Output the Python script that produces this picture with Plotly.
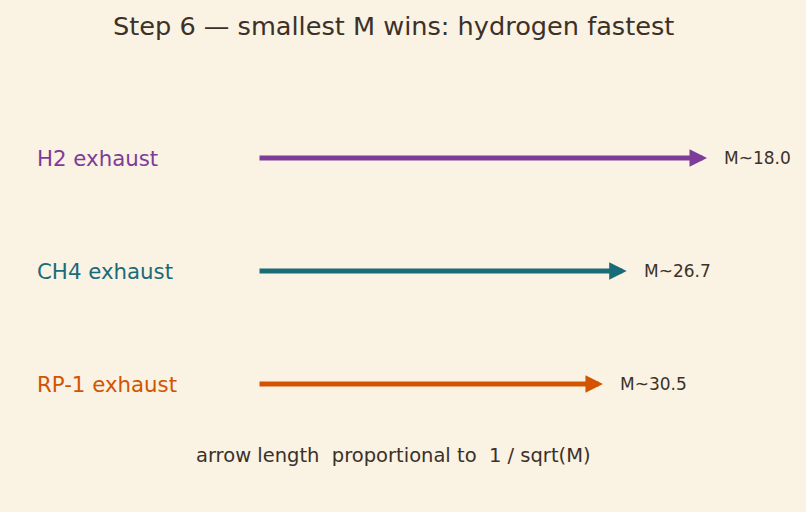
import math
import plotly.graph_objects as go

labels = ["H2 exhaust", "CH4 exhaust", "RP-1 exhaust"]
molar_mass = [18.0, 26.7, 30.5]
colors = ["#7d3c98", "#1a6b78", "#d35400"]
mass_text = ["M~18.0", "M~26.7", "M~30.5"]

title = "Step 6 \u2014 smallest M wins: hydrogen fastest"
note = "arrow length\u00a0 proportional to\u00a0 1 / sqrt(M)"

W, H = 806, 512
bg = "#faf2e3"
ink = "#3b3129"

x0 = 258
k = 1905.0
ys = [158, 271, 384]

fig = go.Figure()
fig.add_trace(go.Scatter(x=[0, W], y=[0, H], mode="markers", marker=dict(opacity=0), hoverinfo="skip", showlegend=False))

ann = []
for lab, m, c, mt, y in zip(labels, molar_mass, colors, mass_text, ys):
    x1 = x0 + k / math.sqrt(m)
    ann.append(dict(x=x1, y=y, ax=x0, ay=y, xref="x", yref="y", axref="x", ayref="y",
                    showarrow=True, arrowhead=2, arrowsize=0.7, arrowwidth=5, arrowcolor=c,
                    standoff=0, startstandoff=0, text=""))
    ann.append(dict(x=35, y=y, xref="x", yref="y", text=lab, showarrow=False,
                    xanchor="left", yanchor="middle", font=dict(size=21.3, color=c)))
    ann.append(dict(x=x1 + 15, y=y, xref="x", yref="y", text=mt, showarrow=False,
                    xanchor="left", yanchor="middle", font=dict(size=17, color=ink)))

ann.append(dict(x=393.5, y=26, xref="x", yref="y", text=title, showarrow=False,
                xanchor="center", yanchor="middle", font=dict(size=25.6, color=ink)))
ann.append(dict(x=393.5, y=455, xref="x", yref="y", text=note, showarrow=False,
                xanchor="center", yanchor="middle", font=dict(size=19.5, color=ink)))

fig.update_layout(
    width=W, height=H, margin=dict(l=0, r=0, t=0, b=0),
    paper_bgcolor=bg, plot_bgcolor=bg,
    font=dict(family="DejaVu Sans", color=ink),
    xaxis=dict(range=[0, W], visible=False, fixedrange=True),
    yaxis=dict(range=[H, 0], visible=False, fixedrange=True),
    annotations=ann, showlegend=False,
)
fig.write_html("out.html", config={"displayModeBar": False})
